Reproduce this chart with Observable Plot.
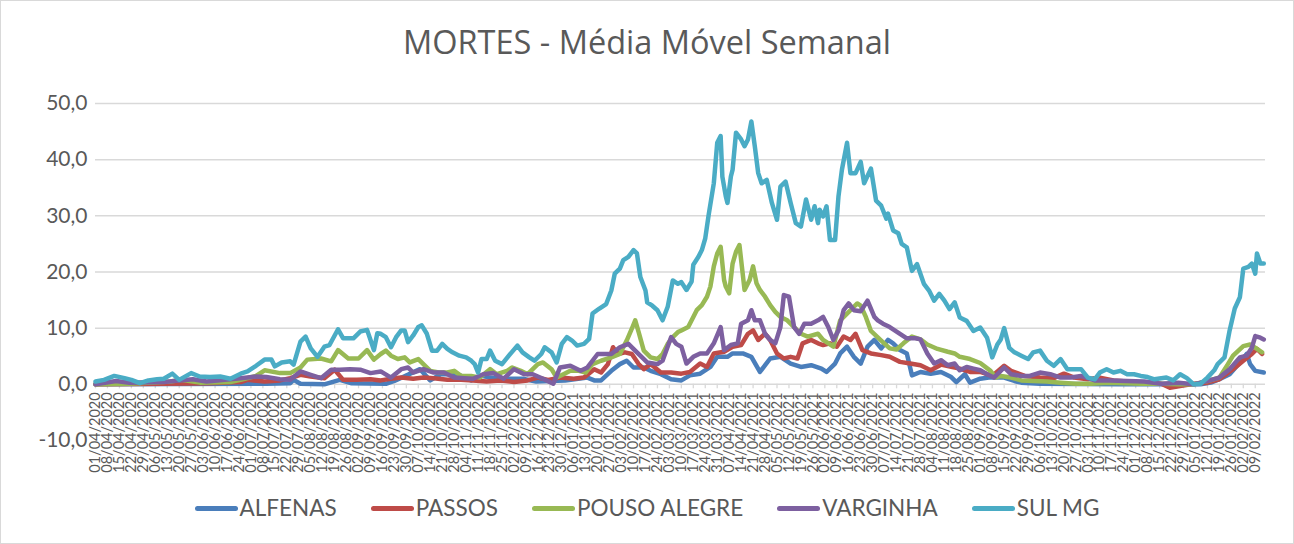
<!DOCTYPE html>
<html>
<head>
<meta charset="utf-8">
<script src="https://cdn.jsdelivr.net/npm/d3@7"></script>
<script src="https://cdn.jsdelivr.net/npm/@observablehq/plot@0.6"></script>
<style>
  html, body { margin: 0; padding: 0; background: #fff; }
  #chart { width: 1294px; height: 544px; box-sizing: border-box; border: 1px solid #d9d9d9; background: #fff;
           font-family: Lato, "Open Sans", sans-serif; color: #595959; overflow: hidden; }
  #title { height: 77px; box-sizing: border-box; padding-top: 25px; text-align: center; font-family: "Open Sans", Lato, sans-serif; font-size: 32.5px; line-height: 1; color: #595959; white-space: nowrap; }
  #plot { height: 404px; }
  #plot svg { display: block; }
  #legend { height: 61px; box-sizing: border-box; padding-top: 16px; display: flex; justify-content: center; align-items: flex-start; gap: 34px; font-size: 22.5px; line-height: 20px; }
  .item { display: flex; align-items: center; height: 20px; }
  .sw { display: inline-block; width: 43px; height: 5px; border-radius: 3px; margin-right: 2px; }
</style>
</head>
<body>
<div id="chart">
  <div id="title">MORTES - Média Móvel Semanal</div>
  <div id="plot"></div>
  <div id="legend"></div>
</div>
<script>
// Days since 01/04/2020 and 7-day moving average of deaths
const seriesNames = ["ALFENAS", "PASSOS", "POUSO ALEGRE", "VARGINHA", "SUL MG"];
const seriesColors = ["#4a7ebb", "#be4b48", "#98b954", "#7d60a0", "#4aacc5"];

const ALFENAS = [[0,0],[100,0.1],[114,0.2],[116,0.8],[120,0.1],[134,0.0],[143,0.8],[150,0.2],[170,0.1],[175,0.6],[190,2.7],[196,0.7],[202,1.8],[212,1.8],[220,0.7],[226,1.5],[231,1.2],[240,1.0],[250,1.0],[258,0.5],[266,0.6],[275,0.7],[288,1.2],[292,0.7],[296,0.7],[302,2.4],[307,3.6],[311,4.2],[315,3.0],[321,3.0],[325,2.4],[331,1.8],[337,0.9],[343,0.7],[348,1.6],[354,1.9],[360,3.1],[364,4.9],[370,4.9],[373,5.5],[379,5.5],[384,4.9],[389,2.2],[395,4.6],[401,4.9],[407,3.7],[413,3.1],[419,3.4],[425,2.8],[428,2.2],[433,3.7],[436,5.5],[440,6.7],[444,4.9],[448,3.7],[452,6.7],[456,7.9],[460,6.4],[464,7.9],[467,7.3],[471,6.1],[475,5.5],[478,1.6],[483,2.2],[489,1.9],[495,2.2],[501,1.3],[504,0.4],[509,1.8],[512,0.3],[518,1.0],[523,1.2],[532,1.2],[538,0.6],[542,0.3],[553,0.1],[600,0.0],[647,0.0],[653,0.3],[658,0.9],[664,1.8],[670,3.9],[674,5.4],[676,3.6],[679,2.4],[684,2.1]];

const PASSOS = [[0,0],[40,0.1],[67,0.2],[85,0.4],[89,0.8],[99,0.5],[108,0.7],[114,1.1],[120,1.7],[126,1.4],[134,1.1],[140,2.6],[145,0.8],[153,0.8],[161,0.9],[167,0.7],[173,1.0],[179,1.2],[186,1.0],[192,1.2],[198,1.1],[206,0.8],[214,0.8],[221,0.7],[229,0.5],[237,0.7],[245,0.4],[253,0.7],[259,1.2],[265,0.8],[272,1.2],[280,1.0],[286,1.2],[292,2.7],[296,2.1],[300,3.6],[303,6.6],[306,5.4],[310,5.7],[314,5.4],[318,3.6],[321,2.7],[325,3.6],[331,2.1],[337,2.1],[343,1.9],[348,2.2],[354,3.7],[358,3.1],[362,5.5],[368,5.8],[373,6.7],[378,7.0],[382,9.0],[385,9.6],[388,7.9],[392,9.0],[395,7.9],[399,5.5],[403,4.6],[407,4.9],[411,4.6],[414,7.3],[419,7.9],[423,7.3],[426,7.0],[430,7.3],[434,6.7],[438,8.5],[442,7.9],[445,9.0],[449,6.1],[454,5.5],[460,5.2],[465,4.9],[471,4.0],[477,3.7],[483,3.4],[489,2.5],[495,3.5],[501,3.1],[506,2.8],[512,2.2],[518,2.2],[525,1.5],[532,3.3],[536,2.4],[544,1.5],[553,1.2],[561,1.1],[567,1.9],[573,1.2],[581,0.9],[588,1.2],[596,0.7],[604,0.5],[614,0.3],[624,0.1],[629,-0.6],[635,-0.3],[643,0.1],[651,0.3],[658,0.9],[666,2.7],[672,4.2],[677,5.4],[680,6.3],[683,5.4]];

const POUSO_ALEGRE = [[0,0],[20,0.1],[44,0.5],[50,0.8],[61,0.3],[79,0.4],[85,0.8],[94,1.5],[99,2.5],[108,2.0],[114,2.0],[120,3.0],[124,4.4],[132,4.6],[138,4.1],[142,6.1],[148,4.6],[154,4.6],[159,6.1],[163,4.4],[167,5.4],[170,6.0],[173,5.1],[177,4.5],[181,4.8],[184,3.9],[189,4.5],[193,3.3],[196,2.4],[201,2.1],[206,2.1],[210,2.4],[214,1.5],[220,1.5],[225,1.2],[231,2.7],[235,1.8],[241,2.4],[244,3.0],[249,2.4],[253,1.8],[259,3.6],[262,3.9],[267,2.7],[270,1.2],[274,1.8],[278,2.4],[283,2.4],[287,2.1],[291,3.6],[296,4.2],[302,4.8],[307,5.4],[311,7.8],[314,9.9],[316,11.4],[318,9.3],[321,6.0],[325,4.8],[329,4.5],[332,5.4],[335,7.2],[338,8.4],[341,9.3],[343,9.6],[347,10.2],[350,12.0],[352,13.2],[355,14.1],[358,15.6],[360,17.4],[362,21.0],[364,23.3],[366,24.5],[368,18.6],[369,17.4],[371,16.2],[373,21.5],[375,23.6],[377,24.8],[380,16.8],[383,18.6],[385,21.0],[387,18.0],[389,16.8],[392,15.6],[395,14.1],[398,12.9],[401,12.0],[405,11.4],[409,10.2],[413,9.0],[417,8.5],[423,9.0],[426,7.9],[432,6.7],[436,11.4],[440,12.6],[443,13.5],[446,14.4],[448,14.0],[451,12.0],[454,9.5],[460,7.8],[465,6.4],[469,6.2],[473,7.3],[478,8.5],[483,8.0],[487,7.1],[493,6.3],[499,5.8],[503,5.5],[506,4.9],[512,4.5],[518,3.8],[524,2.4],[527,1.2],[530,1.5],[536,1.2],[542,0.7],[549,0.6],[557,0.5],[565,0.3],[574,0.1],[583,0.1],[593,0.3],[603,0.2],[612,0.1],[624,0.1],[634,0.0],[643,0.0],[651,0.6],[658,1.2],[663,3.6],[666,5.1],[672,6.8],[676,7.1],[680,6.3],[683,5.7]];

const VARGINHA = [[0,0],[12,0.6],[20,0.3],[40,0.4],[57,0.9],[65,0.5],[85,1.1],[94,1.4],[100,1.3],[108,0.9],[114,0.8],[120,2.3],[126,1.7],[132,1.1],[138,2.6],[143,2.6],[149,2.7],[155,2.6],[161,2.0],[167,2.3],[173,1.2],[179,2.7],[183,3.0],[186,2.1],[192,2.7],[198,2.1],[204,2.1],[210,1.2],[216,1.1],[221,1.0],[227,1.8],[233,2.0],[239,1.0],[245,2.7],[251,1.8],[256,1.8],[262,1.0],[268,0.1],[272,3.0],[278,3.3],[284,2.4],[288,3.0],[294,5.4],[297,5.4],[302,5.4],[307,6.6],[312,7.2],[317,5.7],[323,3.9],[329,3.6],[332,4.2],[337,8.4],[340,7.2],[343,6.7],[346,3.7],[350,4.9],[354,5.5],[358,5.5],[362,7.3],[366,10.2],[368,6.1],[372,7.0],[376,7.3],[378,10.8],[382,11.4],[384,13.2],[386,11.4],[389,11.4],[392,9.0],[395,7.9],[398,7.3],[401,10.2],[403,15.9],[406,15.6],[409,10.2],[412,9.0],[415,10.8],[419,10.8],[423,11.4],[426,12.0],[429,10.2],[432,7.9],[435,9.6],[438,13.2],[441,14.4],[444,13.2],[448,13.0],[452,14.9],[456,12.0],[458,11.4],[461,10.8],[465,10.2],[471,9.0],[475,8.2],[480,8.2],[483,8.0],[487,5.5],[491,3.7],[495,4.3],[499,3.4],[503,3.7],[506,2.5],[510,3.1],[514,2.8],[518,2.5],[522,1.8],[526,1.2],[532,3.0],[536,1.8],[542,1.5],[547,1.5],[553,2.1],[559,1.8],[565,1.2],[571,1.2],[577,1.5],[585,0.7],[594,0.7],[604,0.6],[614,0.5],[624,0.1],[634,0.3],[643,0.0],[651,0.6],[658,1.2],[664,2.7],[670,4.8],[674,5.1],[677,6.5],[679,8.6],[682,8.3],[684,8.0]];

const SUL_MG = [[0,0.5],[5,0.8],[11,1.5],[17,1.1],[21,0.8],[26,0.2],[31,0.7],[36,0.9],[40,1.0],[45,1.9],[49,0.8],[56,2.0],[61,1.4],[67,1.3],[73,1.4],[79,1.0],[85,1.9],[89,2.3],[94,3.3],[99,4.4],[103,4.4],[105,3.2],[109,3.9],[114,4.1],[116,3.5],[120,7.6],[123,8.5],[126,6.4],[130,4.9],[134,6.7],[137,7.0],[142,9.8],[145,8.2],[151,8.2],[155,9.4],[159,9.7],[163,6.1],[165,9.1],[167,9.0],[170,8.4],[173,6.6],[176,8.4],[179,9.6],[181,9.6],[183,7.5],[186,8.7],[189,10.2],[191,10.5],[194,9.0],[197,6.0],[200,6.0],[203,7.2],[206,6.3],[209,5.7],[213,5.1],[217,4.8],[220,4.2],[222,3.6],[224,2.1],[226,4.5],[229,4.5],[231,6.0],[234,4.2],[238,3.6],[242,5.1],[247,6.9],[250,5.7],[254,4.8],[257,4.2],[261,5.4],[263,6.6],[267,5.7],[270,3.9],[273,7.2],[276,8.4],[279,7.8],[282,6.9],[286,7.2],[289,8.1],[291,12.6],[295,13.5],[299,14.3],[302,16.7],[304,19.7],[307,20.6],[309,22.1],[312,22.7],[315,23.9],[317,23.3],[319,19.1],[322,16.7],[323,14.6],[326,14.0],[329,13.2],[332,11.4],[335,13.8],[338,18.5],[341,17.9],[343,18.2],[346,16.8],[349,18.3],[350,21.3],[353,22.7],[355,23.9],[357,26.0],[359,30.2],[362,35.8],[364,43.0],[366,44.2],[367,37.0],[369,33.5],[370,32.3],[372,37.0],[373,38.2],[375,44.8],[378,43.6],[380,42.4],[382,43.6],[384,46.8],[386,42.4],[388,37.6],[390,35.8],[393,36.4],[396,32.3],[399,29.3],[401,35.2],[404,36.1],[407,32.3],[410,28.7],[413,28.1],[416,32.9],[419,29.3],[421,31.7],[423,28.7],[424,31.1],[426,29.9],[428,31.7],[430,25.7],[433,25.7],[435,33.5],[437,38.2],[440,43.0],[442,37.6],[445,37.6],[448,39.6],[450,35.8],[454,38.4],[457,32.7],[460,31.8],[463,29.5],[464,30.4],[467,27.4],[470,26.9],[472,25.0],[475,24.4],[478,20.2],[481,21.4],[485,17.9],[488,16.7],[491,14.9],[494,16.1],[497,14.9],[500,13.4],[503,14.6],[506,11.9],[510,11.3],[514,9.5],[518,10.1],[522,8.3],[525,4.8],[528,7.1],[530,8.0],[532,10.0],[535,6.5],[538,5.7],[542,5.1],[546,4.5],[549,5.7],[553,6.0],[557,4.2],[561,3.3],[565,4.5],[569,2.7],[573,2.7],[577,2.7],[581,1.2],[585,0.9],[588,2.1],[592,2.7],[596,2.1],[600,2.4],[604,1.8],[608,1.8],[612,1.5],[616,1.3],[620,0.9],[624,1.1],[627,1.2],[631,0.7],[635,1.8],[639,1.1],[643,0.0],[647,0.1],[651,1.2],[655,2.5],[657,3.6],[661,4.8],[664,9.6],[667,13.5],[670,15.5],[672,20.6],[675,20.9],[677,21.5],[679,19.7],[680,23.3],[682,21.5],[684,21.5]];

const yTicks = [-10, 0, 10, 20, 30, 40, 50];
const gridValues = [10, 20, 30, 40, 50];

const start = new Date(Date.UTC(2020, 3, 1));
const lastDay = 685;
const toDate = d => d3.utcDay.offset(start, d);
const tickDates = d3.range(0, 680, 7).map(toDate);
const fmtDate = d3.utcFormat("%d/%m/%Y");

const allSeries = [ALFENAS, PASSOS, POUSO_ALEGRE, VARGINHA, SUL_MG];
const rows = allSeries.flatMap((s, i) => s.map(([d, v]) => ({serie: seriesNames[i], date: toDate(d), value: v})));

const chart = Plot.plot({
  width: 1292,
  height: 404,
  marginLeft: 94,
  marginRight: 28,
  marginTop: 25,
  marginBottom: 42,
  style: {fontFamily: "Lato, 'Open Sans', sans-serif", color: "#595959", background: "#fff"},
  x: {type: "utc", domain: [start, toDate(lastDay)], axis: null},
  y: {domain: [-10, 50], axis: null},
  color: {domain: seriesNames, range: seriesColors},
  marks: [
    Plot.ruleY(gridValues, {stroke: "#d9d9d9", strokeWidth: 1.5}),
    Plot.ruleY([0], {stroke: "#d9d9d9", strokeWidth: 1.5}),
    Plot.ruleX(tickDates, {x: d => d, y1: 0, y2: -0.8, stroke: "#d9d9d9", strokeWidth: 1.3}),
    Plot.axisY(yTicks, {tickSize: 0, tickPadding: 8, fontSize: 21, tickFormat: d => d.toFixed(1).replace(".", ","), label: null}),
    Plot.text(tickDates, {x: d => d, y: 0, text: d => fmtDate(d), rotate: -90, textAnchor: "end", dy: 8, fontSize: 14.5, fill: "#595959"}),
    Plot.line(rows, {x: "date", y: "value", z: "serie", stroke: "serie", strokeWidth: 4.5, strokeLinejoin: "round", strokeLinecap: "round"})
  ]
});
document.getElementById("plot").appendChild(chart);

const legend = document.getElementById("legend");
seriesNames.forEach((n, i) => {
  const item = document.createElement("div");
  item.className = "item";
  item.innerHTML = `<span class="sw" style="background:${seriesColors[i]}"></span><span>${n}</span>`;
  legend.appendChild(item);
});
</script>
</body>
</html>
